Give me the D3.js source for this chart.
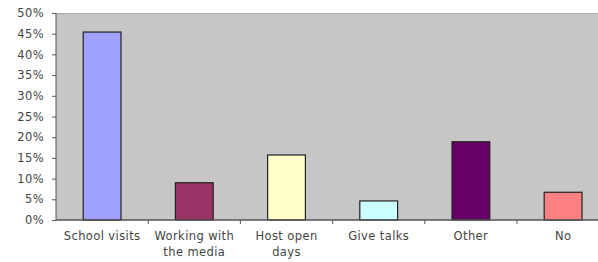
<!DOCTYPE html>
<html>
<head>
<meta charset="utf-8">
<script src="https://cdn.jsdelivr.net/npm/d3@7"></script>
<style>
  body { margin: 0; background: #fff; }
  text { font-family: "DejaVu Sans", Arial, sans-serif; fill: #444; letter-spacing: 0.4px; }
</style>
</head>
<body>
<div id="chart"></div>
<script>
var categories = [["School visits"], ["Working with", "the media"], ["Host open", "days"], ["Give talks"], ["Other"], ["No"]];
var values = [0.454, 0.090, 0.157, 0.046, 0.189, 0.067];
var colors = ["#a0a0ff", "#993366", "#ffffcc", "#ccffff", "#660066", "#ff8080"];
var yTicks = [0, 0.05, 0.1, 0.15, 0.2, 0.25, 0.3, 0.35, 0.4, 0.45, 0.5];

var width = 598, height = 262;
var plotLeft = 56, plotTop = 13, plotBottom = 220, bandW = 92.2;

var svg = d3.select("#chart").append("svg")
  .attr("width", width).attr("height", height);

var x = d3.scaleBand()
  .domain(d3.range(categories.length))
  .range([plotLeft, plotLeft + bandW * categories.length])
  .paddingInner(0.59).paddingOuter(0.295);

var y = d3.scaleLinear().domain([0, 0.5]).range([plotBottom, plotTop]);

// plot area
svg.append("rect")
  .attr("x", plotLeft).attr("y", plotTop)
  .attr("width", bandW * categories.length).attr("height", plotBottom - plotTop)
  .attr("fill", "#c6c6c6");
svg.append("line")
  .attr("x1", plotLeft).attr("x2", width).attr("y1", plotTop + 0.5).attr("y2", plotTop + 0.5)
  .attr("stroke", "#aaa");

svg.selectAll(".bar")
  .data(values)
  .enter().append("rect")
  .attr("class", "bar")
  .attr("x", function(d, i) { return x(i); })
  .attr("y", function(d) { return y(d); })
  .attr("width", x.bandwidth())
  .attr("height", function(d) { return plotBottom - y(d); })
  .attr("fill", function(d, i) { return colors[i]; })
  .attr("stroke", "#222")
  .attr("stroke-width", 1.2);

// y axis
var yAxis = d3.axisLeft(y).tickValues(yTicks).tickSize(4).tickPadding(8)
  .tickFormat(d3.format(".0%"));
var gy = svg.append("g").attr("transform", "translate(" + plotLeft + ",0)").call(yAxis);
gy.select(".domain").attr("stroke", "#555").attr("d", "M0," + plotTop + "V" + plotBottom);
gy.selectAll(".tick line").attr("stroke", "#555");
gy.selectAll("text").attr("font-size", 11.5).attr("fill", "#444").attr("font-family", "DejaVu Sans");

// x axis
var gx = svg.append("g").attr("transform", "translate(0," + plotBottom + ")");
gx.append("line").attr("x1", plotLeft).attr("x2", width).attr("stroke", "#555").attr("stroke-width", 1.5);
gx.selectAll(".xt")
  .data(d3.range(1, categories.length))
  .enter().append("line")
  .attr("x1", function(d) { return plotLeft + d * bandW; })
  .attr("x2", function(d) { return plotLeft + d * bandW; })
  .attr("y1", 0).attr("y2", 4)
  .attr("stroke", "#555");

gx.selectAll(".xl")
  .data(categories)
  .enter().append("text")
  .attr("text-anchor", "middle")
  .attr("font-size", 11.5)
  .attr("transform", function(d, i) { return "translate(" + (x(i) + x.bandwidth() / 2) + ",20)"; })
  .selectAll("tspan")
  .data(function(d) { return d; })
  .enter().append("tspan")
  .attr("x", 0)
  .attr("dy", function(d, j) { return j === 0 ? 0 : 16; })
  .text(function(d) { return d; });
</script>
</body>
</html>
